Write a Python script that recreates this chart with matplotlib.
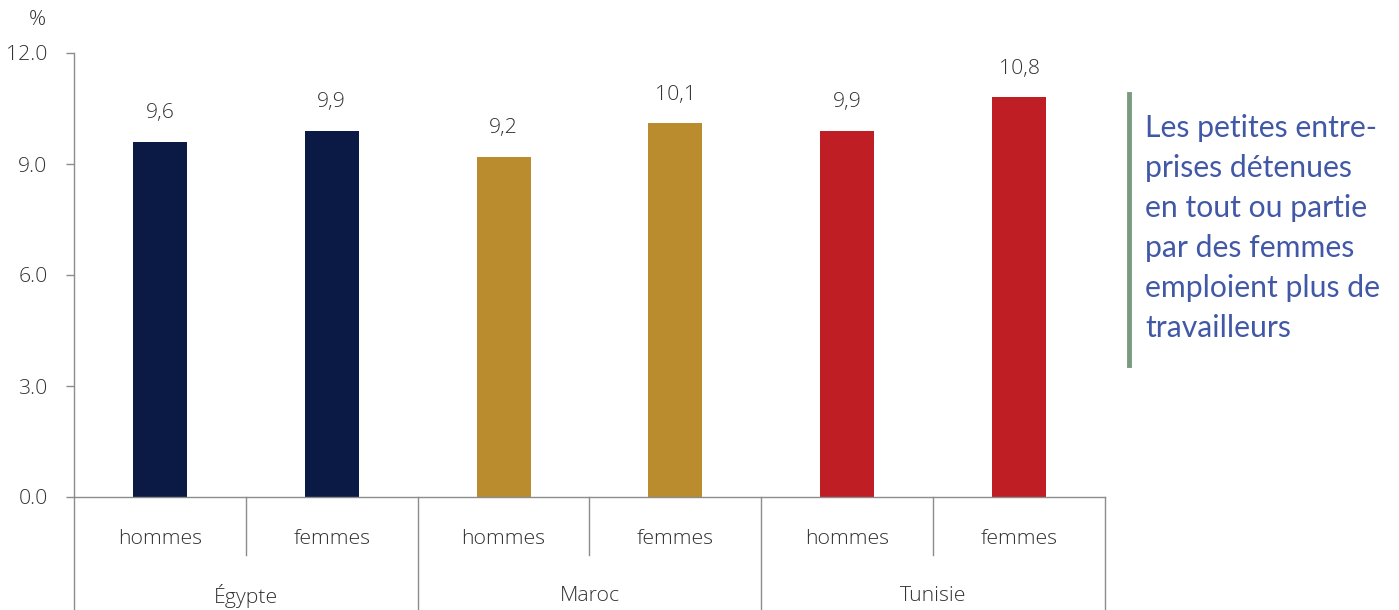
import matplotlib.pyplot as plt
from matplotlib.lines import Line2D

# data
countries = ["Égypte", "Maroc", "Tunisie"]
sexes = ["hommes", "femmes"]
values = [9.6, 9.9, 9.2, 10.1, 9.9, 10.8]
value_labels = ["9,6", "9,9", "9,2", "10,1", "9,9", "10,8"]
yticks = [0.0, 3.0, 6.0, 9.0, 12.0]
colors = ["#0a1a44", "#0a1a44", "#bb8c2e", "#bb8c2e", "#be1e24", "#be1e24"]
note = ("Les petites entre-\nprises détenues\nen tout ou partie\n"
        "par des femmes\nemploient plus de\ntravailleurs")

plt.rcParams["font.family"] = ["Open Sans", "DejaVu Sans"]
axis_grey = "#8c8c8c"
text_col = "#333333"
fs = 15.3

fig = plt.figure(figsize=(13.99, 6.10), dpi=100)
ax = fig.add_axes([74 / 1399, 1 - 497 / 610, (1105 - 74) / 1399, 444 / 610])

x = list(range(len(values)))
bars = ax.bar(x, values, width=0.315, color=colors)
for b, lab in zip(bars, value_labels):
    ax.annotate(lab, (b.get_x() + b.get_width() / 2, b.get_height()),
                xytext=(0, 20.5), textcoords="offset points",
                ha="center", va="center", fontsize=fs, color=text_col,
                fontweight="light")

ax.set_xlim(-0.5, len(values) - 0.5)
ax.set_ylim(0, 12)
ax.set_yticks(yticks)
ax.set_yticklabels([f"{t:.1f}" for t in yticks], fontsize=fs, color=text_col,
                   fontweight="light")
ax.tick_params(axis="y", length=6, width=1, color=axis_grey, pad=13)
ax.set_xticks([])

for s in ["top", "right"]:
    ax.spines[s].set_visible(False)
for s in ["left", "bottom"]:
    ax.spines[s].set_color(axis_grey)
    ax.spines[s].set_linewidth(1)

ax.text(-0.035, 1.075, "%", transform=ax.transAxes, ha="center", va="center",
        fontsize=fs, color=text_col, fontweight="light")

# multi-level category axis
trans = ax.get_xaxis_transform()
low_sep = -(555 - 497) / 444
bottom = -(610 - 497) / 444
for i in range(len(values)):
    ax.text(i, -(539 - 497) / 444, sexes[i % 2], transform=trans, ha="center",
            va="center", fontsize=fs, color=text_col, fontweight="light")
for k in range(len(countries)):
    ax.text(2 * k + 0.5, -(596 - 497) / 444, countries[k], transform=trans,
            ha="center", va="center", fontsize=fs, color=text_col,
            fontweight="light")
for k in range(len(countries)):
    xm = 2 * k + 0.5
    ax.add_line(Line2D([xm, xm], [0, low_sep], transform=trans, color=axis_grey,
                       lw=1, clip_on=False))
for k in range(len(countries) + 1):
    xb = 2 * k - 0.5
    ax.add_line(Line2D([xb, xb], [0, bottom], transform=trans, color=axis_grey,
                       lw=1, clip_on=False))

# side note
fig.add_artist(Line2D([1129 / 1399, 1129 / 1399], [1 - 94 / 610, 1 - 365 / 610],
                      transform=fig.transFigure, color="#7a9a80", lw=3.5))
fig.text(1145 / 1399, 1 - 114 / 610, note, ha="left", va="top", fontsize=21.7,
         color="#4058a6", family=["Lato", "DejaVu Sans"], fontweight="normal",
         linespacing=1.52)

fig.savefig("out.png", dpi=100)
